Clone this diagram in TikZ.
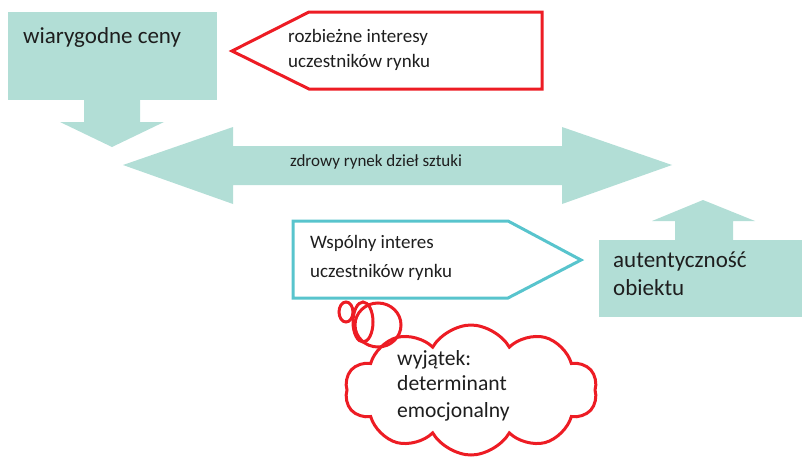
\documentclass[tikz,border=0pt]{standalone}
\usepackage{fontspec}
\setmainfont{Carlito}
\usetikzlibrary{shapes.symbols}
\definecolor{tealfill}{RGB}{178,222,214}
\definecolor{redc}{RGB}{237,28,36}
\definecolor{cyanc}{RGB}{88,196,205}
\definecolor{txt}{RGB}{30,30,30}
\tikzset{
  tealshape/.style={fill=tealfill},
  redline/.style={draw=redc, line width=3pt, line join=miter},
  cyanline/.style={draw=cyanc, line width=3pt, line join=miter},
  lbl/.style={anchor=base west, inner sep=0pt, text=txt},
  bigtxt/.style={lbl, font=\fontsize{23}{28}\selectfont},
  midtxt/.style={lbl, font=\fontsize{19}{25}\selectfont},
  smalltxt/.style={lbl, font=\fontsize{17}{20}\selectfont},
  cloudtxt/.style={lbl, font=\fontsize{21.6}{26}\selectfont},
}
\begin{document}
\begin{tikzpicture}[x=1pt,y=-1pt]
\useasboundingbox (0,0) rectangle (802,458);
% teal shapes
\fill[tealshape] (8,12) rectangle (217,100);
\fill[tealshape] (84,99) -- (140,99) -- (140,122) -- (164,122) -- (112,147) -- (60,122) -- (84,122) -- cycle;
\fill[tealshape] (123,165) -- (233,127) -- (233,146) -- (562,146) -- (562,127) -- (672,165) -- (562,204) -- (562,185) -- (233,185) -- (233,204) -- cycle;
\fill[tealshape] (599,240) rectangle (802,317);
\fill[tealshape] (675,241) -- (675,221) -- (652,221) -- (703,200) -- (755,221) -- (733,221) -- (733,241) -- cycle;
% pentagons
\draw[redline] (232,51) -- (309,12) -- (542,12) -- (542,89) -- (309,89) -- cycle;
\draw[cyanline] (293,221) -- (508,221) -- (581,260) -- (508,298) -- (293,298) -- cycle;
% cloud
\node[cloud, cloud puffs=10, cloud puff arc=120, aspect=2, draw=redc, fill=white, line width=3pt,
      minimum width=252pt, minimum height=130pt, inner sep=0pt] (cloud) at (471,390) {};
\draw[redline] (346,312) ellipse [x radius=7pt, y radius=10pt];
\draw[redline] (363,322) ellipse [x radius=10pt, y radius=20pt];
\draw[redline] (378,325) ellipse [x radius=23pt, y radius=22pt];
% texts
\node[bigtxt] (t1) at (23,43) {wiarygodne ceny};
\node[midtxt] (t2a) at (288,42) {rozbieżne interesy};
\node[midtxt] (t2b) at (288,67) {uczestników rynku};
\node[smalltxt] (t3) at (290,166) {zdrowy rynek dzieł sztuki};
\node[midtxt] (t4a) at (310,248) {Wspólny interes};
\node[midtxt] (t4b) at (310,277) {uczestników rynku};
\node[bigtxt] (t5a) at (613,267) {autentyczność};
\node[bigtxt] (t5b) at (613,295) {obiektu};
\node[cloudtxt] (t6a) at (397,365) {wyjątek:};
\node[cloudtxt] (t6b) at (397,390) {determinant};
\node[cloudtxt] (t6c) at (397,417) {emocjonalny};
\end{tikzpicture}
\end{document}
